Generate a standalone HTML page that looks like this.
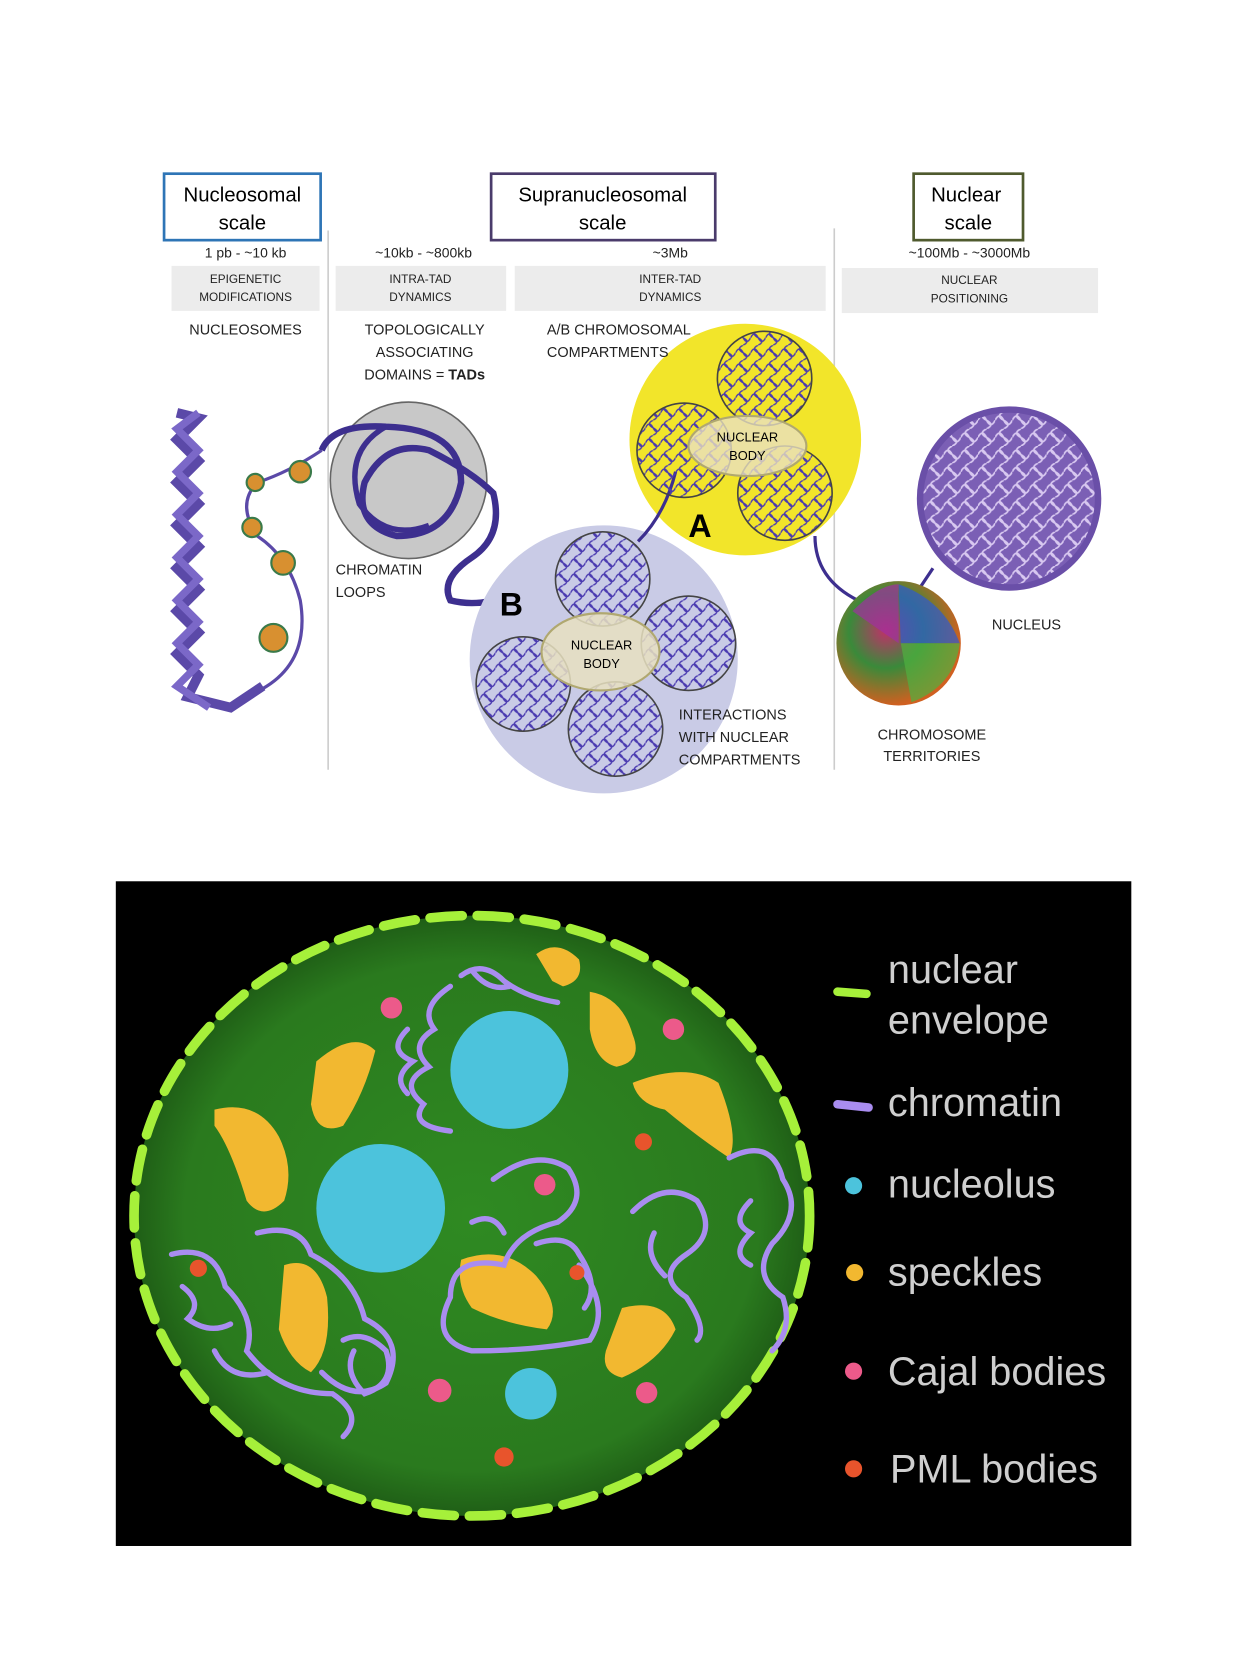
<!DOCTYPE html>
<html><head><meta charset="utf-8"><style>
html,body{margin:0;padding:0;background:#fff;}
svg{display:block;}
text{font-family:"Liberation Sans",sans-serif;}
</style></head><body>
<svg width="1260" height="1680" viewBox="0 0 1175 1567" preserveAspectRatio="none" xmlns="http://www.w3.org/2000/svg">
<defs>
<radialGradient id="gn" cx="50%" cy="50%" r="50%"><stop offset="0" stop-color="#2f8a22"/><stop offset="0.85" stop-color="#2a7a1e"/><stop offset="1" stop-color="#1f5e16"/></radialGradient>
<radialGradient id="ct" cx="40%" cy="40%" r="60%"><stop offset="0" stop-color="#c0306a"/><stop offset="0.5" stop-color="#3a8a3a"/><stop offset="1" stop-color="#d06020"/></radialGradient>
<pattern id="sq" width="14" height="14" patternUnits="userSpaceOnUse"><path d="M0 7 Q3.5 0 7 7 T14 7 M7 0 Q0 3.5 7 7 T7 14" stroke="#4a3ab0" fill="none" stroke-width="1.3"/></pattern>
<pattern id="nq" width="16" height="16" patternUnits="userSpaceOnUse"><rect width="16" height="16" fill="#7b5fb5"/><path d="M0 8 Q4 0 8 8 T16 8 M8 0 Q0 4 8 8 T8 16" stroke="#d8c8f0" fill="none" stroke-width="1.6"/></pattern>
</defs>
<rect width="1175" height="1567" fill="#fff"/>
<rect x="153" y="162" width="146" height="62" fill="#fff" stroke="#2e75b6" stroke-width="2.5"/>
<text x="226" y="188" font-size="19" text-anchor="middle">Nucleosomal</text><text x="226" y="214" font-size="19" text-anchor="middle">scale</text>
<rect x="458" y="162" width="209" height="62" fill="#fff" stroke="#4a3b6b" stroke-width="2.5"/>
<text x="562" y="188" font-size="19" text-anchor="middle">Supranucleosomal</text><text x="562" y="214" font-size="19" text-anchor="middle">scale</text>
<rect x="852" y="162" width="102" height="62" fill="#fff" stroke="#4f5a2e" stroke-width="2.5"/>
<text x="901" y="188" font-size="19" text-anchor="middle">Nuclear</text><text x="903" y="214" font-size="19" text-anchor="middle">scale</text>
<line x1="306" y1="215" x2="306" y2="718" stroke="#ccc" stroke-width="1.5"/>
<line x1="778" y1="213" x2="778" y2="718" stroke="#ccc" stroke-width="1.5"/>
<g font-size="13" text-anchor="middle" fill="#222">
<text x="229" y="240">1 pb - ~10 kb</text><text x="395" y="240">~10kb - ~800kb</text><text x="625" y="240">~3Mb</text><text x="904" y="240">~100Mb - ~3000Mb</text>
</g>
<rect x="160" y="248" width="138" height="42" fill="#ececec"/>
<rect x="313" y="248" width="159" height="42" fill="#ececec"/>
<rect x="480" y="248" width="290" height="42" fill="#ececec"/>
<rect x="785" y="250" width="239" height="42" fill="#ececec"/>
<g font-size="11" text-anchor="middle" fill="#222">
<text x="229" y="264">EPIGENETIC</text><text x="229" y="281">MODIFICATIONS</text>
<text x="392" y="264">INTRA-TAD</text><text x="392" y="281">DYNAMICS</text>
<text x="625" y="264">INTER-TAD</text><text x="625" y="281">DYNAMICS</text>
<text x="904" y="265">NUCLEAR</text><text x="904" y="282">POSITIONING</text>
</g>
<path d="M165 385 L185 390 L165 410 L185 430 L165 450 L185 470 L165 490 L185 510 L165 530 L185 550 L165 570 L185 590 L165 610 L185 630 L175 650 L215 660 L245 640" stroke="#5b49a8" stroke-width="9" fill="none"/>
<path d="M185 385 L165 400 L185 420 L165 440 L185 460 L165 480 L185 500 L165 520 L185 540 L165 560 L185 580 L165 600 L185 620 L165 640 L195 660" stroke="#7b68c8" stroke-width="7" fill="none"/>
<path d="M240 645 Q290 620 280 560 Q270 520 240 500 Q220 470 240 450 Q270 440 300 420" stroke="#5b49a8" stroke-width="3" fill="none"/>
<g fill="#d89030" stroke="#3a7a4a" stroke-width="2"><circle cx="238" cy="450" r="8"/><circle cx="280" cy="440" r="10"/><circle cx="235" cy="492" r="9"/><circle cx="264" cy="525" r="11"/><circle cx="255" cy="595" r="13"/></g>
<circle cx="381" cy="448" r="73" fill="#c8c8c8" stroke="#666" stroke-width="1.5"/>
<path d="M300 420 Q310 395 360 398 Q430 400 430 450 Q420 500 370 500 Q330 490 340 450 Q360 410 400 420 Q440 440 460 460 Q470 500 440 520 Q410 540 420 560 Q460 570 500 540 Q520 520 520 540" stroke="#3d2f8f" stroke-width="6" fill="none"/>
<path d="M360 398 Q320 420 335 470 Q360 505 400 490" stroke="#3d2f8f" stroke-width="5" fill="none"/>
<circle cx="563" cy="615" r="125" fill="#c9cbe6"/>
<g fill="url(#sq)" stroke="#444" stroke-width="1.5"><circle cx="562" cy="540" r="44"/><circle cx="642" cy="600" r="44"/><circle cx="488" cy="638" r="44"/><circle cx="574" cy="680" r="44"/></g>
<ellipse cx="560" cy="608" rx="55" ry="36" fill="#e8e0c0" fill-opacity="0.85" stroke="#b0a870" stroke-width="2"/>
<text x="561" y="606" font-size="12" text-anchor="middle">NUCLEAR</text><text x="561" y="623" font-size="12" text-anchor="middle">BODY</text>
<text x="466" y="574" font-size="30" font-weight="bold">B</text>
<circle cx="695" cy="410" r="108" fill="#f2e52a"/>
<path d="M595 505 Q620 480 630 440 M760 500 Q760 540 800 560" stroke="#3d2f8f" stroke-width="3" fill="none"/>
<g fill="url(#sq)" stroke="#444" stroke-width="1.5"><circle cx="713" cy="353" r="44"/><circle cx="638" cy="420" r="44"/><circle cx="732" cy="460" r="44"/></g>
<ellipse cx="697" cy="416" rx="55" ry="28" fill="#e8e0c0" fill-opacity="0.8" stroke="#b0a870" stroke-width="2"/>
<text x="697" y="412" font-size="12" text-anchor="middle">NUCLEAR</text><text x="697" y="429" font-size="12" text-anchor="middle">BODY</text>
<text x="642" y="501" font-size="30" font-weight="bold">A</text>
<circle cx="941" cy="465" r="83" fill="url(#nq)" stroke="#6a4fa8" stroke-width="6"/>
<path d="M870 530 L850 560" stroke="#3d2f8f" stroke-width="3"/>
<circle cx="838" cy="600" r="58" fill="url(#ct)"/>
<path d="M838 545 Q880 560 895 600 L840 600 Z" fill="#2f5ad0" opacity="0.7"/>
<path d="M795 570 Q820 545 838 545 L838 600 Z" fill="#a030a0" opacity="0.7"/>
<path d="M840 600 L895 600 Q890 640 850 655 Z" fill="#50b040" opacity="0.7"/>
<g font-size="13.5" fill="#222">
<text x="229" y="312" text-anchor="middle">NUCLEOSOMES</text>
<text x="396" y="312" text-anchor="middle">TOPOLOGICALLY</text><text x="396" y="333" text-anchor="middle">ASSOCIATING</text><text x="396" y="354" text-anchor="middle">DOMAINS = <tspan font-weight="bold">TADs</tspan></text>
<text x="510" y="312">A/B CHROMOSOMAL</text><text x="510" y="333">COMPARTMENTS</text>
<text x="313" y="536">CHROMATIN</text><text x="313" y="557">LOOPS</text>
<text x="633" y="671">INTERACTIONS</text><text x="633" y="692">WITH NUCLEAR</text><text x="633" y="713">COMPARTMENTS</text>
<text x="925" y="587">NUCLEUS</text>
<text x="869" y="690" text-anchor="middle">CHROMOSOME</text><text x="869" y="710" text-anchor="middle">TERRITORIES</text>
</g>
<rect x="108" y="822" width="947" height="620" fill="#000"/>
<ellipse cx="440" cy="1134" rx="315" ry="280" fill="url(#gn)"/>
<ellipse cx="440" cy="1134" rx="315" ry="280" fill="none" stroke="#a6f03a" stroke-width="9" stroke-dasharray="30 14" stroke-linecap="round"/>
<g fill="#f2b830">
<path d="M500 890 Q520 875 540 895 Q545 915 525 920 L515 915 Z"/>
<path d="M550 925 Q580 930 590 965 Q600 990 575 995 Q555 990 550 960 Z"/>
<path d="M590 1010 Q640 990 670 1010 Q690 1060 680 1080 Q650 1060 620 1035 Q595 1030 590 1010 Z"/>
<path d="M295 990 Q330 960 350 980 Q340 1020 320 1050 Q295 1060 290 1030 Z"/>
<path d="M200 1035 Q240 1025 260 1060 Q275 1090 265 1120 Q245 1140 230 1120 Q215 1070 200 1050 Z"/>
<path d="M265 1180 Q295 1170 305 1210 Q310 1260 290 1280 Q270 1270 260 1240 Z"/>
<path d="M430 1175 Q470 1160 500 1190 Q525 1220 510 1240 Q470 1235 440 1220 Q425 1200 430 1175 Z"/>
<path d="M580 1220 Q620 1210 630 1240 Q615 1270 580 1285 Q560 1280 565 1260 Z"/>
</g>
<g fill="#4cc3dc"><circle cx="475" cy="998" r="55"/><circle cx="355" cy="1127" r="60"/><circle cx="495" cy="1300" r="24"/></g>
<g fill="none" stroke="#a98df0" stroke-width="5" stroke-linecap="round">
<path d="M430 910 Q450 895 470 915 Q490 930 520 935 M420 920 Q390 940 405 960 Q380 975 400 995 Q370 1010 395 1030 Q380 1050 420 1055"/>
<path d="M380 960 Q360 980 385 990 Q365 1005 380 1020 M440 905 Q455 925 475 920"/>
<path d="M460 1100 Q500 1070 530 1090 Q550 1120 520 1140 Q480 1150 470 1180 Q420 1170 420 1210 Q400 1250 440 1260 Q500 1260 550 1250 Q570 1220 540 1180"/>
<path d="M440 1140 Q460 1130 470 1150 M500 1160 Q530 1150 540 1170 Q560 1200 545 1220"/>
<path d="M160 1170 Q200 1160 210 1200 Q240 1230 230 1260 Q260 1300 310 1300 Q340 1320 320 1340 M240 1150 Q280 1140 290 1170 Q330 1190 340 1230 Q380 1250 360 1290 Q330 1310 300 1280"/>
<path d="M170 1200 Q190 1215 175 1230 Q195 1245 215 1235 M200 1260 Q215 1290 250 1280"/>
<path d="M590 1130 Q620 1100 650 1120 Q670 1150 640 1170 Q610 1190 640 1210 Q660 1240 650 1250 M680 1080 Q720 1060 730 1100 Q750 1130 720 1160 Q700 1190 730 1210 Q740 1240 720 1260"/>
<path d="M700 1120 Q680 1140 700 1150 Q680 1170 700 1180 M610 1150 Q600 1170 620 1190"/>
<path d="M320 1250 Q340 1240 360 1260 Q370 1290 340 1300 Q320 1280 330 1260"/>
</g>
<g fill="#ec5a8a"><circle cx="365" cy="940" r="10"/><circle cx="628" cy="960" r="10"/><circle cx="508" cy="1105" r="10"/><circle cx="410" cy="1297" r="11"/><circle cx="603" cy="1299" r="10"/></g>
<g fill="#e8542c"><circle cx="600" cy="1065" r="8"/><circle cx="185" cy="1183" r="8"/><circle cx="538" cy="1187" r="7"/><circle cx="470" cy="1359" r="9"/></g>
<line x1="781" y1="925" x2="808" y2="927" stroke="#a6f03a" stroke-width="8" stroke-linecap="round"/>
<line x1="781" y1="1030" x2="810" y2="1033" stroke="#a98df0" stroke-width="8" stroke-linecap="round"/>
<circle cx="796" cy="1106" r="8" fill="#4cc3dc"/><circle cx="797" cy="1187" r="8" fill="#f2b830"/><circle cx="796" cy="1279" r="8" fill="#ec5a8a"/><circle cx="796" cy="1370" r="8" fill="#e8542c"/>
<g font-size="37" fill="#cfcfcf">
<text x="828" y="917">nuclear</text><text x="828" y="964">envelope</text>
<text x="828" y="1041">chromatin</text><text x="828" y="1117">nucleolus</text><text x="828" y="1199">speckles</text>
<text x="828" y="1292">Cajal bodies</text><text x="830" y="1383">PML bodies</text>
</g>
</svg>
</body></html>
